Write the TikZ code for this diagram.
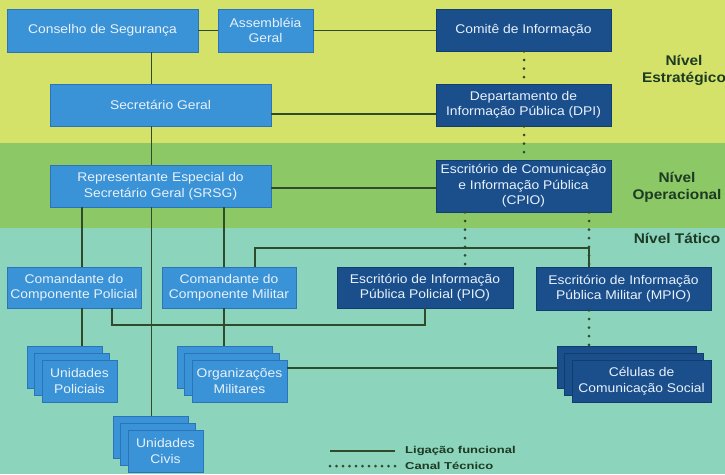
\documentclass[tikz,border=0pt]{standalone}
\usepackage{fontspec}
\setmainfont[FakeStretch=1.1]{Liberation Sans}
\newfontfamily\legendfont[FakeStretch=1.3]{Liberation Sans}
\usetikzlibrary{calc}

\definecolor{bandS}{HTML}{D5E26A}
\definecolor{bandO}{HTML}{8CC966}
\definecolor{bandT}{HTML}{8DD4BD}
\definecolor{lblue}{HTML}{3A93D6}
\definecolor{lblueEdge}{HTML}{2B74B8}
\definecolor{dblue}{HTML}{1B4F8C}
\definecolor{dblueEdge}{HTML}{123D70}
\definecolor{linkc}{HTML}{2E4B2C}
\definecolor{levelc}{HTML}{1D3A22}
\definecolor{boxtext}{HTML}{E8F1FB}

\tikzset{
  x=1pt, y=-1pt,
  unitbox/.style={line width=0.8pt, text=boxtext, align=center, inner sep=0pt,
    font=\fontsize{12.6}{15.5}\selectfont},
  lbox/.style={unitbox, fill=lblue, draw=lblueEdge},
  dbox/.style={unitbox, fill=dblue, draw=dblueEdge},
  link/.style={draw=linkc, line width=1.8pt},
  techlink/.style={draw=linkc, line width=3pt, line cap=round, dash pattern=on 0pt off 8.6pt},
  levellabel/.style={text=levelc, align=center, font=\bfseries\fontsize{14}{17}\selectfont},
  legendtext/.style={text=levelc, anchor=west, inner sep=0pt, font=\legendfont\bfseries\fontsize{10}{12}\selectfont}
}

\begin{document}
\begin{tikzpicture}
\useasboundingbox (0,0) rectangle (725,474);

% the three command levels
\fill[bandS] (0,0) rectangle (725,143);
\fill[bandO] (0,143) rectangle (725,228);
\fill[bandT] (0,228) rectangle (725,474);

\node[levellabel] (lvS) at (684,70) {Nível\\Estratégico};
\node[levellabel] (lvO) at (677,187) {Nível\\Operacional};
\node[levellabel] (lvT) at (677,238) {Nível Tático};

% strategic level
\node[lbox, minimum width=191, minimum height=43] (cs) at (102.5,30.5) {Conselho de Segurança};
\node[lbox, minimum width=95, minimum height=43] (ag) at (265.5,30.5) {Assembléia\\Geral};
\node[dbox, minimum width=175, minimum height=42] (ci) at (523.5,30) {Comitê de Informação};
\node[lbox, minimum width=221, minimum height=42] (sg) at (160.5,105) {Secretário Geral};
\node[dbox, minimum width=175, minimum height=42] (dpi) at (523.5,105) {Departamento de\\Informação Pública (DPI)};

% operational level
\node[lbox, minimum width=221, minimum height=42] (srsg) at (160.5,186) {Representante Especial do\\Secretário Geral (SRSG)};
\node[dbox, minimum width=175, minimum height=52] (cpio) at (523.5,186) {Escritório de Comunicação\\e Informação Pública\\(CPIO)};

% tactical level
\node[lbox, minimum width=134, minimum height=41] (ccp) at (74,287.5) {Comandante do\\Componente Policial};
\node[lbox, minimum width=134, minimum height=41] (ccm) at (229,287.5) {Comandante do\\Componente Militar};
\node[dbox, minimum width=176, minimum height=41] (pio) at (425,287.5) {Escritório de Informação\\Pública Policial (PIO)};
\node[dbox, minimum width=175, minimum height=43] (mpio) at (623.5,288.5) {Escritório de Informação\\Pública Militar (MPIO)};

% stacked units: two sheets behind each front box
\foreach \nm/\cx/\cy/\w/\sty in {up/79.5/381/75/lbox, om/239.5/381/95/lbox, uc/165.5/451/75/lbox, cel/641.5/381/139/dbox}{
  \node[\sty, minimum width=\w, minimum height=42] (\nm3) at (\cx-15,\cy-14) {};
  \node[\sty, minimum width=\w, minimum height=42] (\nm2) at (\cx-7.5,\cy-7) {};
}
\node[lbox, minimum width=75, minimum height=42] (up) at (79.5,381) {Unidades\\Policiais};
\node[lbox, minimum width=95, minimum height=42] (om) at (239.5,381) {Organizações\\Militares};
\node[lbox, minimum width=75, minimum height=42] (uc) at (165.5,451) {Unidades\\Civis};
\node[dbox, minimum width=139, minimum height=42] (cel) at (641.5,381) {Células de\\Comunicação Social};

% vertical channels
\coordinate (xP) at (82,0);
\coordinate (xPb) at (112,0);
\coordinate (xC) at (151.5,0);
\coordinate (xM) at (224,0);
\coordinate (xMt) at (255,0);
\coordinate (xI) at (524,0);
\coordinate (xPio) at (425,0);
\coordinate (xCp) at (465,0);
\coordinate (xMp) at (589,0);
\coordinate (yTop) at (0,30.5);
\coordinate (ySg) at (0,114);
\coordinate (ySr) at (0,188);
\coordinate (yMil) at (0,248);
\coordinate (yPol) at (0,325);
\coordinate (yOm) at (0,368);

% functional links
\draw[link] (cs.east |- yTop) -- (ag.west |- yTop);
\draw[link] (ag.east |- yTop) -- (ci.west |- yTop);
\draw[link] (xC |- cs.south) -- (xC |- sg.north);
\draw[link] (xC |- sg.south) -- (xC |- srsg.north);
\draw[link] (sg.east |- ySg) -- (dpi.west |- ySg);
\draw[link] (srsg.east |- ySr) -- (cpio.west |- ySr);
\draw[link] (xP |- srsg.south) -- (xP |- ccp.north);
\draw[link] (xM |- srsg.south) -- (xM |- ccm.north);
\draw[link] (xC |- srsg.south) -- (xC |- uc3.north);
\draw[link] (xMt |- ccm.north) -- (xMt |- yMil) -- (xMp |- yMil) -- (xMp |- mpio.north);
\draw[link] (xP |- ccp.south) -- (xP |- up3.north);
\draw[link] (xM |- ccm.south) -- (xM |- om3.north);
\draw[link] (xPb |- ccp.south) -- (xPb |- yPol) -- (xPio |- yPol) -- (xPio |- pio.south);
\draw[link] (om.east |- yOm) -- (cel3.west |- yOm);

% technical channels
\draw[techlink] (xI |- ci.south) -- (xI |- dpi.north);
\draw[techlink] (xI |- dpi.south) -- (xI |- cpio.north);
\draw[techlink] (xCp |- cpio.south) -- (xCp |- pio.north);
\draw[techlink] (xMp |- cpio.south) -- (xMp |- mpio.north);
\draw[techlink] (xMp |- mpio.south) -- (xMp |- cel3.north);

% legend
\coordinate (lg1) at (330,451);
\coordinate (lg2) at (330,466);
\node[legendtext] (lgt1) at (405,451) {Ligação funcional};
\node[legendtext] (lgt2) at (405,466) {Canal Técnico};
\draw[link] (lg1) -- (lg1 -| 395,0);
\draw[techlink, dash pattern=on 0pt off 6.5pt] (lg2) -- (lg2 -| 395,0);
\end{tikzpicture}
\end{document}
